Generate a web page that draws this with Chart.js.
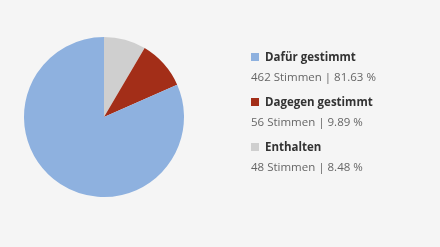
<!DOCTYPE html>
<html>
<head>
<meta charset="utf-8">
<script src="https://cdn.jsdelivr.net/npm/chart.js@4"></script>
<style>
  html, body { margin: 0; padding: 0; background: #f5f5f5; }
  #wrap { position: relative; width: 440px; height: 247px; }
  #chart { position: absolute; left: 0; top: 0; }
  #legend { position: absolute; left: 251px; top: 0; font-family: 'Open Sans', sans-serif; font-size: 11.5px; }
  .item { position: absolute; left: 0; white-space: nowrap; }
  .label { font-weight: bold; color: #333; line-height: 14px; }
  .sw { display: inline-block; width: 8px; height: 8px; margin-right: 6px; vertical-align: 0px; }
  .val { color: #666; line-height: 14px; margin-top: 6px; }
</style>
</head>
<body>
<div id="wrap">
  <canvas id="chart" width="440" height="247"></canvas>
  <div id="legend"></div>
</div>
<script>
// legend order
const labels = ['Dafür gestimmt', 'Dagegen gestimmt', 'Enthalten'];
const votes = [462, 56, 48];
const percents = ['81.63', '9.89', '8.48'];
const colors = ['#8eb1df', '#a32e18', '#cfcfcf'];

// pie is drawn clockwise from the top starting with the last entry
const order = [2, 1, 0];

function renderLegend() {
    const legend = document.getElementById('legend');
    legend.innerHTML = '';
    labels.forEach((label, i) => {
        const item = document.createElement('div');
        item.className = 'item';
        item.style.top = (49.5 + i * 45.3) + 'px';
        item.innerHTML = `<div class="label"><span class="sw" style="background:${colors[i]}"></span>${label}</div>` +
            `<div class="val">${votes[i]} Stimmen | ${percents[i]} %</div>`;
        legend.appendChild(item);
    });
}

function renderChart() {
    new Chart(document.getElementById('chart').getContext('2d'), {
        type: 'pie',
        data: {
            labels: order.map(i => labels[i]),
            datasets: [{
                data: order.map(i => votes[i]),
                backgroundColor: order.map(i => colors[i]),
                borderWidth: 0
            }]
        },
        options: {
            responsive: false,
            animation: false,
            layout: { padding: { left: 24, right: 256, top: 37, bottom: 50 } },
            plugins: { legend: { display: false }, tooltip: { enabled: false } }
        }
    });
}

renderLegend();
renderChart();
</script>
</body>
</html>
